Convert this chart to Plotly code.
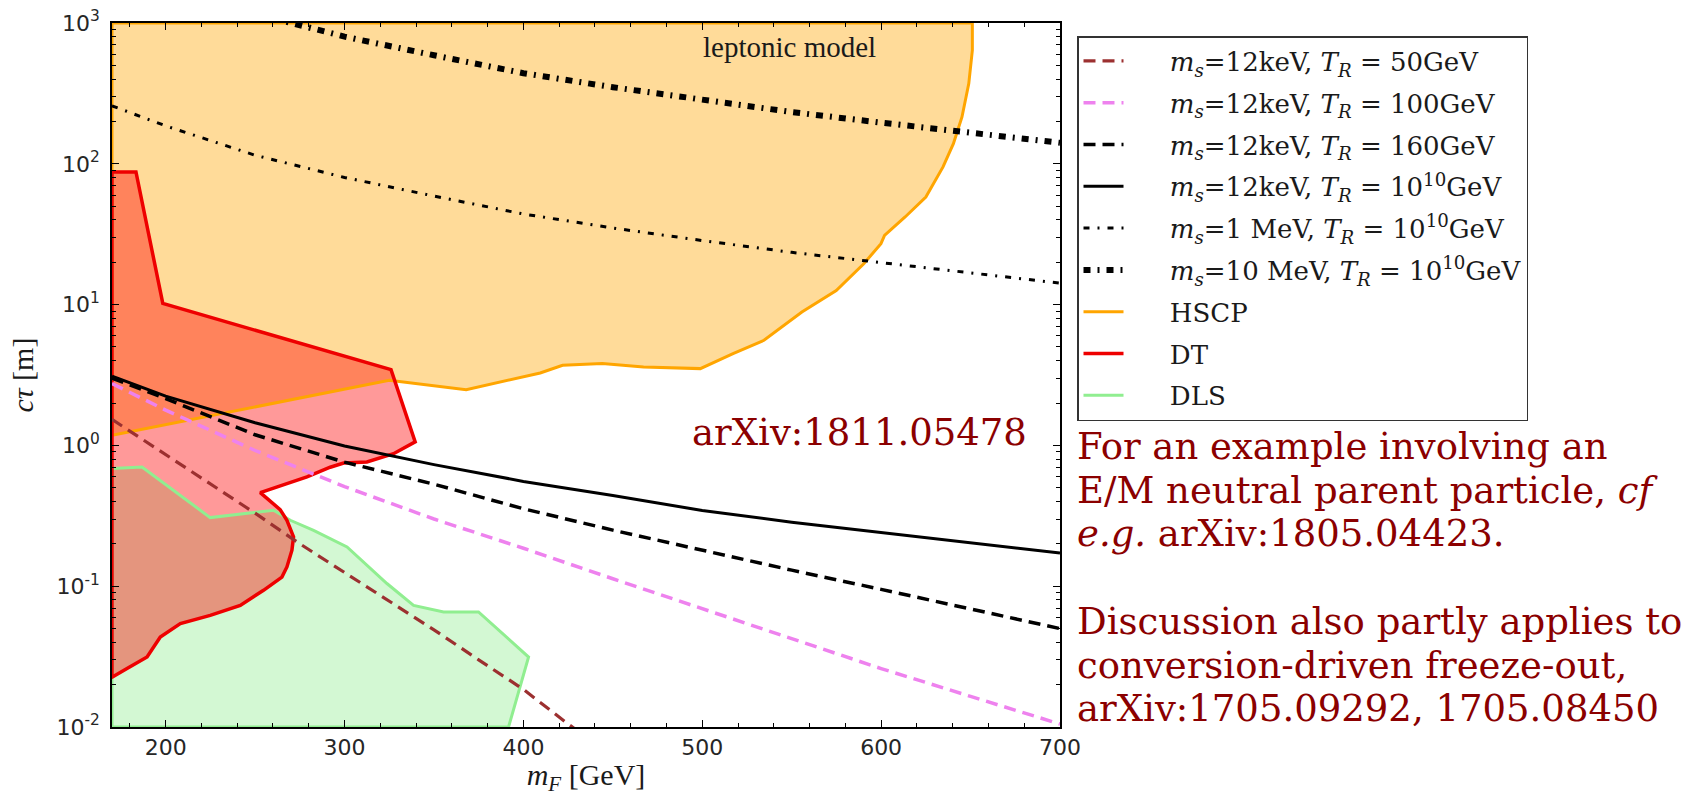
import plotly.graph_objects as go

# ---------------- data ----------------
mf = [170, 200, 250, 300, 350, 400, 450, 500, 550, 600, 650, 700]
ct_12keV_TR1e10 = [3.1, 2.24, 1.45, 0.99, 0.73, 0.555, 0.44, 0.345, 0.285, 0.24, 0.203, 0.172]
ct_12keV_TR160 = [3.0, 2.15, 1.19, 0.76, 0.53, 0.355, 0.25, 0.18, 0.13, 0.095, 0.069, 0.050]
ct_12keV_TR100 = [2.75, 1.78, 0.92, 0.51, 0.30, 0.186, 0.113, 0.069, 0.042, 0.026, 0.0165, 0.0105]
ct_1MeV_TR1e10 = [258, 186, 115, 80, 59, 44, 35, 28.5, 23.5, 19.8, 16.7, 14.2]

mf_TR50 = [170, 200, 225, 250, 275, 300, 325, 350, 375, 400, 425, 435]
ct_12keV_TR50 = [1.53, 0.86, 0.53, 0.33, 0.20, 0.125, 0.078, 0.049, 0.030, 0.0185, 0.0105, 0.0085]

mf_10MeV = [260, 270, 300, 350, 400, 450, 500, 550, 600, 650, 700]
ct_10MeV_TR1e10 = [1080, 1000, 800, 590, 440, 350, 283, 233, 196, 166, 141]

hscp_x = [170, 325, 368, 409.4, 421.9, 444.1, 467.2, 498.9, 517.2, 534.5, 555.7, 574.9,
          590.3, 599.9, 601.9, 613.4, 625, 634.6, 640.4, 645.2, 649, 651, 651, 170, 170]
hscp_y = [1.18, 2.9, 2.49, 3.27, 3.71, 3.81, 3.61, 3.51, 4.49, 5.58, 8.86, 12.6,
          19.5, 27.1, 31.0, 41.9, 58, 95, 139, 215, 371, 640, 1000, 1000, 1.18]

dt_x = [170, 183.4, 198.4, 326, 339.5, 327.4, 312.5, 299.5, 292, 279, 267.8, 252.9, 264,
        267.8, 271.5, 270.6, 267.8, 265, 254.7, 241.7, 224.9, 208.2, 197, 189.6, 178.4,
        170.9, 170, 170]
dt_y = [87.5, 87.5, 10.2, 3.45, 1.06, 0.873, 0.762, 0.75, 0.70, 0.597, 0.535, 0.462, 0.35,
        0.294, 0.224, 0.18, 0.137, 0.116, 0.0935, 0.0731, 0.0621, 0.0542, 0.0436, 0.0314, 0.026,
        0.0226, 0.0226, 87.5]

dls_x = [170, 186.8, 224.9, 260.3, 269.7, 282.7, 301.4, 323.7, 338.6, 355.4, 374.9, 402.9,
         391.7, 170, 170]
dls_y = [0.684, 0.703, 0.307, 0.346, 0.294, 0.249, 0.19, 0.1045, 0.0731, 0.0656, 0.0656, 0.0314,
         0.01, 0.01, 0.684]

y_tickvals = [0.01, 0.1, 1, 10, 100, 1000]
y_ticktext = ["10<sup>-2</sup>", "10<sup>-1</sup>", "10<sup>0</sup>", "10<sup>1</sup>",
              "10<sup>2</sup>", "10<sup>3</sup>"]

names = [
    "<i>m</i><sub><i>s</i></sub>=12keV, <i>T</i><sub><i>R</i></sub> = 50GeV",
    "<i>m</i><sub><i>s</i></sub>=12keV, <i>T</i><sub><i>R</i></sub> = 100GeV",
    "<i>m</i><sub><i>s</i></sub>=12keV, <i>T</i><sub><i>R</i></sub> = 160GeV",
    "<i>m</i><sub><i>s</i></sub>=12keV, <i>T</i><sub><i>R</i></sub> = 10<sup>10</sup>GeV",
    "<i>m</i><sub><i>s</i></sub>=1 MeV, <i>T</i><sub><i>R</i></sub> = 10<sup>10</sup>GeV",
    "<i>m</i><sub><i>s</i></sub>=10 MeV, <i>T</i><sub><i>R</i></sub> = 10<sup>10</sup>GeV",
    "HSCP", "DT", "DLS",
]
PAD = "\u00a0" * 5  # gap between legend symbol and label, as in the reference
names = [PAD + n for n in names]

# ---------------- geometry helpers ----------------
W, H = 1702, 796
L, R, T, B = 112, 1060, 23, 727


def px(x):
    return (x - L) / (R - L)


def py(y):
    return (B - y) / (B - T)


fig = go.Figure()

# fills
fig.add_trace(go.Scatter(x=hscp_x, y=hscp_y, mode="lines", fill="toself",
                         fillcolor="rgba(255,165,0,0.4)", line=dict(width=0),
                         showlegend=False, hoverinfo="skip"))
fig.add_trace(go.Scatter(x=dls_x, y=dls_y, mode="lines", fill="toself",
                         fillcolor="rgba(144,238,144,0.4)", line=dict(width=0),
                         showlegend=False, hoverinfo="skip"))
fig.add_trace(go.Scatter(x=dt_x, y=dt_y, mode="lines", fill="toself",
                         fillcolor="rgba(255,0,0,0.4)", line=dict(width=0),
                         showlegend=False, hoverinfo="skip"))

# edges
fig.add_trace(go.Scatter(x=hscp_x, y=hscp_y, mode="lines", name=names[6], legendrank=7,
                         legendgroup="g7", line=dict(color="#FFA500", width=3)))
fig.add_trace(go.Scatter(x=dls_x, y=dls_y, mode="lines", name=names[8], legendrank=9,
                         legendgroup="g9", line=dict(color="#90EE90", width=3)))
fig.add_trace(go.Scatter(x=dt_x, y=dt_y, mode="lines", name=names[7], legendrank=8,
                         legendgroup="g8", line=dict(color="#EE0000", width=3.5)))

# curves
fig.add_trace(go.Scatter(x=mf_TR50, y=ct_12keV_TR50, mode="lines", name=names[0], legendrank=1,
                         legendgroup="g1", line=dict(color="#9c3030", width=3.2, dash="12px,7px")))
fig.add_trace(go.Scatter(x=mf, y=ct_12keV_TR100, mode="lines", name=names[1], legendrank=2,
                         legendgroup="g2", line=dict(color="#EE82EE", width=3.5, dash="12px,7px")))
fig.add_trace(go.Scatter(x=mf, y=ct_12keV_TR160, mode="lines", name=names[2], legendrank=3,
                         legendgroup="g3", line=dict(color="black", width=3.5, dash="12px,7px")))
fig.add_trace(go.Scatter(x=mf, y=ct_12keV_TR1e10, mode="lines", name=names[3], legendrank=4,
                         legendgroup="g4", line=dict(color="black", width=3)))
fig.add_trace(go.Scatter(x=mf, y=ct_1MeV_TR1e10, mode="lines", name=names[4], legendrank=5,
                         legendgroup="g5", line=dict(color="black", width=3, dash="6px,8px,2px,8px")))
fig.add_trace(go.Scatter(x=mf_10MeV, y=ct_10MeV_TR1e10, mode="lines", name=names[5], legendrank=6,
                         legendgroup="g6", line=dict(color="black", width=6, dash="7px,7px,2px,7px")))

tickfont = dict(family="DejaVu Sans", size=22, color="#262626")
titlefont = dict(family="Liberation Serif", size=30, color="#1a1a1a")

fig.update_layout(
    width=W, height=H,
    margin=dict(l=L, r=W - R, t=T, b=H - B, autoexpand=False),
    paper_bgcolor="white", plot_bgcolor="white",
    showlegend=True,
    legend=dict(xref="container", yref="container", x=1077 / W, y=1 - 36 / H,
                xanchor="left", yanchor="top", bgcolor="white",
                bordercolor="#333333", borderwidth=1.5, maxheight=700,
                font=dict(family="DejaVu Serif", size=26, color="#1a1a1a"),
                itemwidth=40, traceorder="grouped", tracegroupgap=5),
    xaxis=dict(range=[170, 700], tick0=0, dtick=100, ticks="inside", ticklen=7,
               tickwidth=1.2, tickcolor="black", showline=True, linecolor="black",
               linewidth=1.5, mirror="allticks", showgrid=False, zeroline=False,
               tickfont=tickfont, automargin=False,
               minor=dict(tick0=0, dtick=20, ticks="inside", ticklen=4, tickcolor="black",
                          tickwidth=1, showgrid=False),
               title=dict(text="<i>m</i><sub><i>F</i></sub> [GeV]", font=titlefont, standoff=12)),
    yaxis=dict(type="log", range=[-2, 3], tickmode="array", tickvals=y_tickvals,
               ticktext=y_ticktext, ticks="inside", ticklen=7, tickwidth=1.2,
               tickcolor="black", showline=True, linecolor="black", linewidth=1.5,
               mirror="allticks", showgrid=False, zeroline=False, tickfont=tickfont,
               ticklabelstandoff=6, automargin=False,
               minor=dict(dtick="D1", ticks="inside", ticklen=4, tickcolor="black",
                          tickwidth=1, showgrid=False),
               title=dict(text="<i>cτ</i> [m]", font=titlefont, standoff=14)),
)

red = "#8B0000"
serif = "DejaVu Serif"
fig.add_annotation(x=px(789.7), y=py(46.7), xref="paper", yref="paper", text="leptonic model",
                   showarrow=False, xanchor="center", yanchor="middle",
                   font=dict(family="Liberation Serif", size=29, color="#1a1a1a"))
fig.add_annotation(x=px(1029), y=py(432), xref="paper", yref="paper", text="arXiv:1811.05478",
                   showarrow=False, xanchor="right", yanchor="middle",
                   font=dict(family=serif, size=37, color=red))

side_lines = [
    "For an example involving an",
    "E/M neutral parent particle, <i>cf</i>",
    "<i>e.g.</i> arXiv:1805.04423.",
    "Discussion also partly applies to",
    "conversion-driven freeze-out,",
    "arXiv:1705.09292, 1705.08450",
]
side_y = [446.5, 490, 533.5, 621.5, 665, 708.5]
for txt, yy in zip(side_lines, side_y):
    fig.add_annotation(x=px(1075), y=py(yy), xref="paper", yref="paper", text=txt,
                       showarrow=False, xanchor="left", yanchor="middle",
                       font=dict(family=serif, size=37, color=red))

fig.write_html("out.html")
